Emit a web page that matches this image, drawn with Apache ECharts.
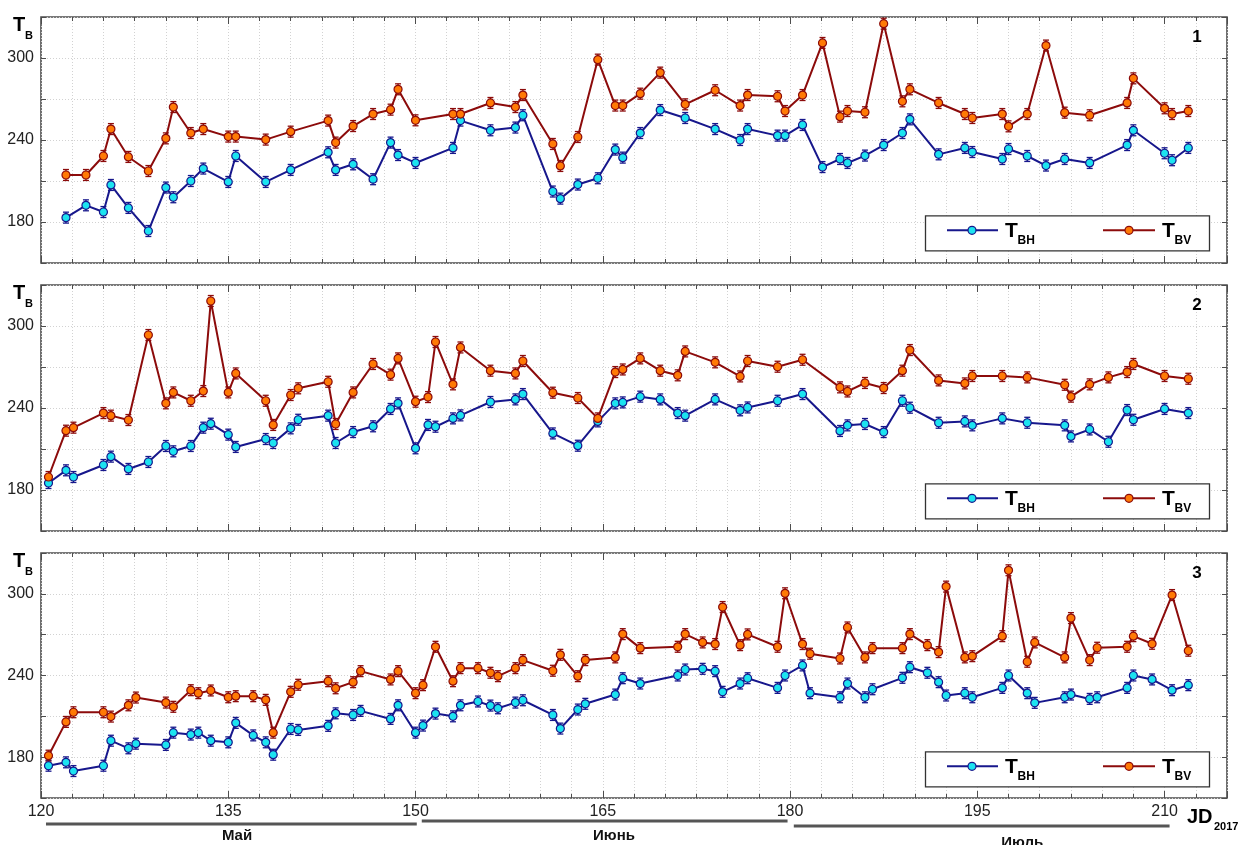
<!DOCTYPE html>
<html><head><meta charset="utf-8">
<script src="https://cdn.jsdelivr.net/npm/echarts@6/dist/echarts.min.js"></script>
<style>html,body{margin:0;padding:0;background:#fff}#c{width:1242px;height:845px}</style>
</head><body><div id="c"></div>
<script>
// ---------- DATA ----------
const X_TICKS = [120, 135, 150, 165, 180, 195, 210];
const Y_TICKS = [180, 240, 300];
const ERR = 4;

const JD_P1 = [122,123.6,125,125.6,127,128.6,130,130.6,132,133,135,135.6,138,140,143,143.6,145,146.6,148,148.6,150,153,153.6,156,158,158.6,161,161.6,163,164.6,166,166.6,168,169.6,171.6,174,176,176.6,179,179.6,181,182.6,184,184.6,186,187.5,189,189.6,191.9,194,194.6,197,197.5,199,200.5,202,204,207,207.5,210,210.6,211.9];
const TBH_P1 = [183.2,192.2,187.3,207.1,190.3,173.4,205.2,198.1,210,219.1,209.3,228.3,209.3,218.1,231,218.1,222.2,211.3,238.1,229,223.2,234.2,254.2,247.1,249.1,258.1,202.3,197.1,207.4,212,233,227.1,245.1,261.9,256.1,248,240,248,243.2,243.2,251,220.2,226.1,223.2,228.6,236.3,245.1,255.1,229.5,234.2,231.2,226.1,233.4,228.3,221.3,226.1,223.2,236.3,247.1,230.3,225.2,234.2];
const TBV_P1 = [214.4,214.4,228.3,248,227.6,217.3,241.2,264.1,245.1,248,242.5,242.5,240.3,246.1,254.2,238.1,250.2,259,262.2,277.1,254.4,259,259,267.1,264.1,272.9,237.1,221,242.2,298.8,265.2,265.2,273.9,289.3,266.1,276.4,265.2,272.9,272,261.2,272.9,311,257.1,261.2,260.3,325.1,268.3,277.1,267.1,259,256.1,259,250,259,309.1,260,258.1,267.1,285.1,263.2,259,261.2];

const JD_P2 = [120.6,122,122.6,125,125.6,127,128.6,130,130.6,132,133,133.6,135,135.6,138,138.6,140,140.6,143,143.6,145,146.6,148,148.6,150,151,151.6,153,153.6,156,158,158.6,161,163,164.6,166,166.6,168,169.6,171,171.6,174,176,176.6,179,181,184,184.6,186,187.5,189,189.6,191.9,194,194.6,197,199,202,202.5,204,205.5,207,207.5,210,211.9];
const TBH_P2 = [185.1,194.4,189.5,198.3,204.4,195.4,200.5,212.2,208.3,212.2,225.6,228.5,220.5,211.5,217.3,214.4,225.1,231.4,234.4,214.4,222.4,226.6,239.3,243.4,210.5,227.6,226.3,232.4,234.6,244.4,246.3,250.2,221.4,212.4,230.2,243.4,244.1,248.3,246.3,236.3,234.4,246.3,238.3,240.4,245.3,250.2,223.2,227.3,228.3,222.4,245.3,240.2,229.2,230.2,227.3,232.4,229.2,227.3,219.2,224.3,215.3,238.5,231.4,239.3,236.3];
const TBV_P2 = [189.5,223.4,225.6,236.3,234.4,231.2,293.4,243.4,251.4,245.3,252.4,318.3,251.4,265.3,245.3,227.6,249.5,254.4,259.2,228.3,251.4,272.2,264.4,276.3,244.6,248,288.3,257.3,284.3,267.3,265.3,274.4,251.2,247.3,232.4,266.3,268.2,276.3,267.3,263.9,281.4,273.4,263.1,274.4,270.2,275.3,255.1,252.1,258.3,254.6,267.3,282.4,260.2,258,263.4,263.4,262.4,257,248.3,257.3,262.4,266.3,272.2,263.4,261.4];

const JD_P3 = [120.6,122,122.6,125,125.6,127,127.6,130,130.6,132,132.6,133.6,135,135.6,137,138,138.6,140,140.6,143,143.6,145,145.6,148,148.6,150,150.6,151.6,153,153.6,155,156,156.6,158,158.6,161,161.6,163,163.6,166,166.6,168,171,171.6,173,174,174.6,176,176.6,179,179.6,181,181.6,184,184.6,186,186.6,189,189.6,191,191.9,192.5,194,194.6,197,197.5,199,199.6,202,202.5,204,204.6,207,207.5,209,210.6,211.9];
const TBH_P3 = [173.7,176.2,169.8,173.7,192.1,186.5,189.9,189,198,196.6,198,192.1,190.9,205.2,196,190.9,181.8,200.7,200,203,212.2,211,214,208.1,218.1,198,203.2,212,210,218.1,220.9,217.9,215.9,220.1,221.8,211,201,215,219.2,226,238,234.1,240,244.4,244.9,243.2,228,234.1,238,230.9,240,247.4,227,224,234.1,224,229.9,238.3,246.1,242,235.1,225.3,227,224,230.9,240,227,219.9,224,226,222.8,224,230.9,240,237.1,229.2,232.9];
const TBV_P3 = [181.1,205.9,213,213,209.8,218.1,223.8,220.1,217,229.2,227,229,224,224.8,224.8,222.1,198,228,233.2,235.8,230.6,235.1,243.2,237.1,243.2,227,232.9,261.1,235.8,245.4,245.4,242,239.5,245.4,251.3,243.5,255.2,239.5,251.3,253.3,270.4,260.1,261.1,270.4,264.3,263.1,290.3,262.3,270.2,261.1,300.4,263.1,256,252.5,275.3,253.3,260.1,260.1,270.4,262.3,257.2,305.3,253.3,254.2,268.9,317.3,250.1,264.3,253.3,282.2,251.3,260.4,261.1,268.9,263.3,299.1,258.2];

const PANEL_LABELS = ['1', '2', '3'];
const MONTHS = ['Май', 'Июнь', 'Июль'];
const MONTH_START = [120.4, 150.5, 180.3];
const MONTH_END = [150.1, 179.8, 210.4];
const MONTH_LABEL_AT = [135.7, 165.9, 198.6];

// ---------- STYLE ----------
const FONT = '"Liberation Sans", Arial, sans-serif';
const H_LINE = '#17178c', H_FILL = '#1ce3f0';
const V_LINE = '#8c0b0b', V_FILL = '#ff7a05';
const FRAME = '#4d4d4d';
const GRID_TOPS = [17, 285, 553];
const GRID_H = [246, 246, 245];
const GL = 41, GW = 1186;

const PANELS = [
  { jd: JD_P1, h: TBH_P1, v: TBV_P1 },
  { jd: JD_P2, h: TBH_P2, v: TBV_P2 },
  { jd: JD_P3, h: TBH_P3, v: TBV_P3 }
];

function errBar(color) {
  return function (params, api) {
    const x = api.value(0), y = api.value(1), e = api.value(2);
    const t = api.coord([x, y + e]), b = api.coord([x, y - e]);
    const w = 3;
    const st = { stroke: color, lineWidth: 1.3 };
    return { type: 'group', children: [
      { type: 'line', shape: { x1: t[0], y1: t[1], x2: b[0], y2: b[1] }, style: st },
      { type: 'line', shape: { x1: t[0] - w, y1: t[1], x2: t[0] + w, y2: t[1] }, style: st },
      { type: 'line', shape: { x1: b[0] - w, y1: b[1], x2: b[0] + w, y2: b[1] }, style: st }
    ]};
  };
}

const grid = [], xAxis = [], yAxis = [], series = [];
const dotted = { color: '#d2d2d2', type: [1, 2], width: 1 };
const tickStyle = { color: FRAME, width: 1 };

PANELS.forEach((p, gi) => {
  grid.push({ left: GL, top: GRID_TOPS[gi], width: GW, height: GRID_H[gi], show: true,
    borderColor: FRAME, borderWidth: 1.6, backgroundColor: '#fff' });
  const base = { type: 'value', gridIndex: gi, min: 120, max: 215,
    axisLine: { show: false }, axisLabel: { show: false }, splitLine: { show: false } };
  xAxis.push(Object.assign({}, base, { position: 'bottom', interval: 2.5,
    axisTick: { inside: true, length: 4, lineStyle: tickStyle },
    splitLine: { show: true, lineStyle: dotted } }));
  xAxis.push(Object.assign({}, base, { position: 'bottom', interval: 15,
    axisTick: { inside: true, length: 7, lineStyle: tickStyle },
    axisLabel: { show: gi === 2, formatter: v => X_TICKS.includes(v) ? String(v) : '',
      fontSize: 16, color: '#222', fontFamily: FONT, margin: 6 } }));
  xAxis.push(Object.assign({}, base, { position: 'top', interval: 2.5,
    axisTick: { inside: true, length: 4, lineStyle: tickStyle } }));
  xAxis.push(Object.assign({}, base, { position: 'top', interval: 15,
    axisTick: { inside: true, length: 7, lineStyle: tickStyle } }));
  yAxis.push({ type: 'value', gridIndex: gi, min: 150, max: 330, interval: 30, position: 'left',
    axisLine: { show: false }, axisTick: { inside: true, length: 5, lineStyle: tickStyle },
    axisLabel: { formatter: v => Y_TICKS.includes(v) ? String(v) : '', fontSize: 16, color: '#222',
      fontFamily: FONT, margin: 7 },
    splitLine: { show: true, lineStyle: dotted } });
  yAxis.push({ type: 'value', gridIndex: gi, min: 150, max: 330, interval: 30, position: 'right',
    axisLine: { show: false }, axisTick: { inside: true, length: 5, lineStyle: tickStyle },
    axisLabel: { show: false }, splitLine: { show: false } });

  const xi = gi * 4, yi = gi * 2;
  series.push({ type: 'custom', xAxisIndex: xi, yAxisIndex: yi, renderItem: errBar(H_LINE),
    data: p.jd.map((x, i) => [x, p.h[i], ERR]), z: 2, silent: true, clip: true });
  series.push({ type: 'custom', xAxisIndex: xi, yAxisIndex: yi, renderItem: errBar(V_LINE),
    data: p.jd.map((x, i) => [x, p.v[i], ERR]), z: 2, silent: true, clip: true });
  series.push({ type: 'line', name: 'TBH', xAxisIndex: xi, yAxisIndex: yi,
    data: p.jd.map((x, i) => [x, p.h[i]]), symbol: 'circle', symbolSize: 8, showSymbol: true,
    lineStyle: { color: H_LINE, width: 2 }, itemStyle: { color: H_FILL, borderColor: H_LINE, borderWidth: 1.2 }, z: 3 });
  series.push({ type: 'line', name: 'TBV', xAxisIndex: xi, yAxisIndex: yi,
    data: p.jd.map((x, i) => [x, p.v[i]]), symbol: 'circle', symbolSize: 8, showSymbol: true,
    lineStyle: { color: V_LINE, width: 2 }, itemStyle: { color: V_FILL, borderColor: V_LINE, borderWidth: 1.2 }, z: 4 });
});

const chart = echarts.init(document.getElementById('c'), null, { renderer: 'canvas' });
chart.setOption({ animation: false, backgroundColor: '#fff', grid, xAxis, yAxis, series });

// ---------- GRAPHICS ----------
function txt(x, y, text, font, align, color) {
  return { type: 'text', x: x, y: y, z: 100, silent: true,
    style: { text: text, font: font, fill: color || '#000', align: align || 'left', textAlign: align || 'left',
      verticalAlign: 'middle', textVerticalAlign: 'middle' } };
}
const g = [];
GRID_TOPS.forEach((t, gi) => {
  g.push(txt(13, t + 8.5, 'T', 'bold 20px ' + FONT));
  g.push(txt(25, t + 19, 'B', 'bold 11px ' + FONT));
  g.push(txt(1197, t + 20, PANEL_LABELS[gi], 'bold 17px ' + FONT, 'center'));
  const ly = t + 198.8;
  const cy = ly + 14.5;
  g.push({ type: 'rect', z: 90, silent: true, shape: { x: 925.5, y: ly, width: 284, height: 35 },
    style: { fill: '#fff', stroke: '#333', lineWidth: 1.3 } });
  g.push({ type: 'line', z: 91, silent: true, shape: { x1: 947, y1: cy, x2: 998, y2: cy }, style: { stroke: H_LINE, lineWidth: 2 } });
  g.push({ type: 'circle', z: 92, silent: true, shape: { cx: 972, cy: cy, r: 4 }, style: { fill: H_FILL, stroke: H_LINE, lineWidth: 1.2 } });
  g.push(txt(1005, cy + 0.5, 'T', 'bold 21px ' + FONT));
  g.push(txt(1017.5, cy + 10.5, 'BH', 'bold 12px ' + FONT));
  g.push({ type: 'line', z: 91, silent: true, shape: { x1: 1103, y1: cy, x2: 1155, y2: cy }, style: { stroke: V_LINE, lineWidth: 2 } });
  g.push({ type: 'circle', z: 92, silent: true, shape: { cx: 1129, cy: cy, r: 4 }, style: { fill: V_FILL, stroke: V_LINE, lineWidth: 1.2 } });
  g.push(txt(1162, cy + 0.5, 'T', 'bold 21px ' + FONT));
  g.push(txt(1174.5, cy + 10.5, 'BV', 'bold 12px ' + FONT));
});
g.push(txt(1187, 817, 'JD', 'bold 20px ' + FONT));
g.push(txt(1214, 827, '2017', 'bold 11px ' + FONT));
const MONTH_LINE_Y = [824, 821, 826];
const MONTH_TEXT_Y = [836, 835.5, 843];
MONTHS.forEach((m, i) => {
  const x1 = chart.convertToPixel({ xAxisIndex: 9 }, MONTH_START[i]);
  const x2 = chart.convertToPixel({ xAxisIndex: 9 }, MONTH_END[i]);
  const xm = chart.convertToPixel({ xAxisIndex: 9 }, MONTH_LABEL_AT[i]);
  g.push({ type: 'line', z: 50, silent: true, shape: { x1: x1, y1: MONTH_LINE_Y[i], x2: x2, y2: MONTH_LINE_Y[i] },
    style: { stroke: '#555', lineWidth: 3 } });
  g.push(txt(xm, MONTH_TEXT_Y[i], m, 'bold 15px ' + FONT, 'center', '#111'));
});
chart.setOption({ graphic: g });
</script>
</body></html>
